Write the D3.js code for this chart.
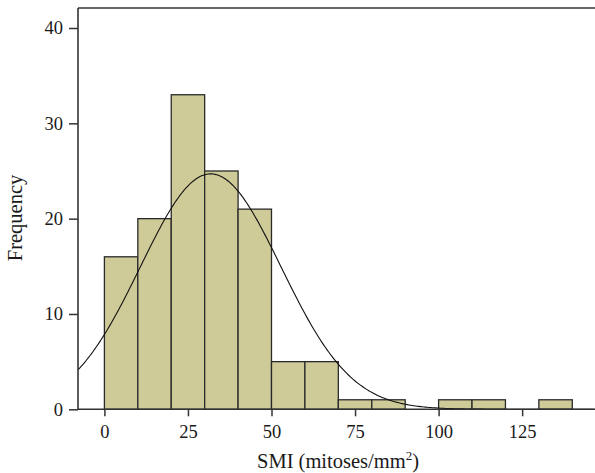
<!DOCTYPE html>
<html><head><meta charset="utf-8">
<script src="https://cdn.jsdelivr.net/npm/d3@7"></script>
<style>body{margin:0;background:#fff}svg{display:block}text{font-family:"Liberation Serif","DejaVu Serif",serif;fill:#1a1a1a}</style>
</head><body><svg id="c" width="595" height="473"></svg>
<script>
const binStarts = [0,10,20,30,40,50,60,70,80,90,100,110,120,130];
const binWidth = 10;
const counts = [16,20,33,25,21,5,5,1,1,0,1,1,0,1];
const xTicks = [0,25,50,75,100,125];
const yTicks = [0,10,20,30,40];
const fitMean = 31.8, fitSd = 21.0;

const svg = d3.select("#c");
const L=78, R=595, T=8, B=409.3;
const x = d3.scaleLinear().domain([-7.9,146.8]).range([L,R]);
const y = d3.scaleLinear().domain([0,42.1]).range([B,T]);
const N = d3.sum(counts);

svg.append("g").selectAll("rect").data(binStarts.map((s,i)=>({s,c:counts[i]})).filter(d=>d.c>0))
  .join("rect")
  .attr("x",d=>x(d.s)).attr("width",d=>x(d.s+binWidth)-x(d.s))
  .attr("y",d=>y(d.c)).attr("height",d=>B-y(d.c))
  .attr("fill","#cecb99").attr("stroke","#2a2a2a").attr("stroke-width",1.3);

const xs = d3.range(-7.9,146.8,0.5);
const pdf = v => N*binWidth/(fitSd*Math.sqrt(2*Math.PI))*Math.exp(-0.5*((v-fitMean)/fitSd)**2);
svg.append("path").datum(xs).attr("fill","none").attr("stroke","#111").attr("stroke-width",1.1)
  .attr("d",d3.line().x(v=>x(v)).y(v=>y(pdf(v))));

const xa = svg.append("g").attr("transform",`translate(0,${B})`)
  .call(d3.axisBottom(x).tickValues(xTicks).tickSize(7).tickPadding(9));
const ya = svg.append("g").attr("transform",`translate(${L},0)`)
  .call(d3.axisLeft(y).tickValues(yTicks).tickSize(9).tickPadding(6));
[xa,ya].forEach(a=>{
  a.selectAll("text").attr("font-size",18.5).attr("font-family","Liberation Serif").attr("fill","#1a1a1a");
  a.selectAll("line").attr("stroke","#333").attr("stroke-width",1.5);
  a.select(".domain").remove();
});
// frame lines
svg.append("line").attr("x1",L).attr("x2",R).attr("y1",B).attr("y2",B).attr("stroke","#333").attr("stroke-width",1.6);
svg.append("line").attr("x1",L).attr("x2",L).attr("y1",T).attr("y2",B).attr("stroke","#333").attr("stroke-width",1.6);
svg.append("line").attr("x1",L).attr("x2",R).attr("y1",T).attr("y2",T).attr("stroke","#333").attr("stroke-width",1.6);

const t = svg.append("text").attr("x",338).attr("y",468).attr("text-anchor","middle").attr("font-size",20.5);
t.append("tspan").text("SMI (mitoses/mm");
t.append("tspan").text("2").attr("font-size",13).attr("dy",-8);
t.append("tspan").text(")").attr("dy",8);

svg.append("text").attr("transform","translate(22,218) rotate(-90)").attr("text-anchor","middle").attr("font-size",20.5).text("Frequency");
</script></body></html>
